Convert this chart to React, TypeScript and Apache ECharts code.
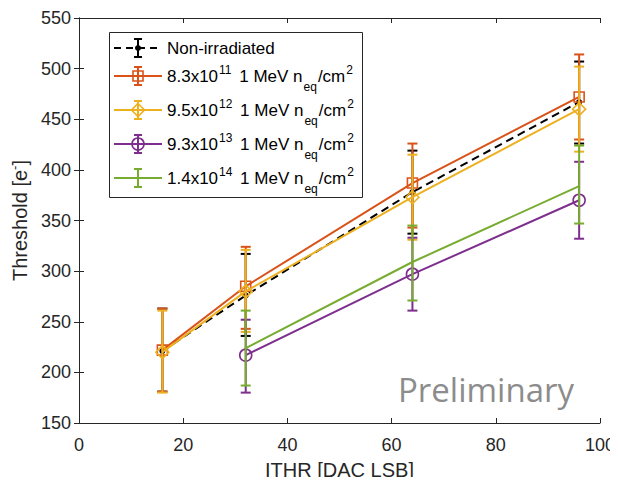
import React, { useEffect, useRef } from "react";
import * as echarts from "echarts";

// ---- data ----
const ithrAll = [16, 32, 64, 96];
const ithrIrr = [32, 64, 96];

const nonIrrMean = [221, 276, 378, 467];
const nonIrrLo = [181, 236, 337, 426];
const nonIrrHi = [263, 317, 419, 507];

const f1Mean = [222, 285, 387, 472];
const f1Lo = [181, 243, 343, 430];
const f1Hi = [263, 324, 426, 514];

const f2Mean = [220, 280, 373, 460];
const f2Lo = [180, 240, 331, 418];
const f2Hi = [261, 321, 415, 502];

const f3Mean = [217, 297, 370];
const f3Lo = [180, 261, 332];
const f3Hi = [252, 333, 408];

const f4Mean = [224, 309, 384];
const f4Lo = [187, 271, 347];
const f4Hi = [261, 345, 424];

const xTicks = { min: 0, max: 100, interval: 20 };
const yTicks = { min: 150, max: 550, interval: 50 };

const legendLabels = [
  "Non-irradiated",
  "8.3x10{sup|11} 1 MeV n{sub|eq}/cm{sup|2}",
  "9.5x10{sup|12} 1 MeV n{sub|eq}/cm{sup|2}",
  "9.3x10{sup|13} 1 MeV n{sub|eq}/cm{sup|2}",
  "1.4x10{sup|14} 1 MeV n{sub|eq}/cm{sup|2}",
];

type SeriesDef = {
  x: number[];
  mean: number[];
  lo: number[];
  hi: number[];
  color: string;
  symbol: string;
  symbolSize: number;
  filled: boolean;
  dashed: boolean;
  label: string;
};

const seriesDefs: SeriesDef[] = [
  { x: ithrAll, mean: nonIrrMean, lo: nonIrrLo, hi: nonIrrHi, color: "#000000", symbol: "circle", symbolSize: 6, filled: true, dashed: true, label: legendLabels[0] },
  { x: ithrAll, mean: f1Mean, lo: f1Lo, hi: f1Hi, color: "#D95319", symbol: "rect", symbolSize: 10, filled: false, dashed: false, label: legendLabels[1] },
  { x: ithrAll, mean: f2Mean, lo: f2Lo, hi: f2Hi, color: "#EDB120", symbol: "diamond", symbolSize: 13, filled: false, dashed: false, label: legendLabels[2] },
  { x: ithrIrr, mean: f3Mean, lo: f3Lo, hi: f3Hi, color: "#7E2F8E", symbol: "circle", symbolSize: 12, filled: false, dashed: false, label: legendLabels[3] },
  { x: ithrIrr, mean: f4Mean, lo: f4Lo, hi: f4Hi, color: "#77AC30", symbol: "none", symbolSize: 0, filled: false, dashed: false, label: legendLabels[4] },
];

const AXIS = "#262626";
const FONT = "'Liberation Sans', Arial, sans-serif";

export default function App() {
  const ref = useRef<HTMLDivElement>(null);
  useEffect(() => {
    if (!ref.current) return;
    const chart = echarts.init(ref.current, undefined, { renderer: "svg" });

    const series: any[] = [];
    seriesDefs.forEach((d, k) => {
      series.push({
        type: "custom",
        silent: true,
        z: 2 + k * 2,
        data: d.x.map((xv, i) => [xv, d.lo[i], d.hi[i]]),
        encode: { x: 0, y: [1, 2] },
        renderItem: (params: any, api: any) => {
          const xv = api.value(0);
          const pLo = api.coord([xv, api.value(1)]);
          const pHi = api.coord([xv, api.value(2)]);
          const w = 5;
          const st = { stroke: d.color, lineWidth: 2 };
          return {
            type: "group",
            children: [
              { type: "line", shape: { x1: pLo[0], y1: pLo[1], x2: pHi[0], y2: pHi[1] }, style: st },
              { type: "line", shape: { x1: pLo[0] - w, y1: pLo[1], x2: pLo[0] + w, y2: pLo[1] }, style: st },
              { type: "line", shape: { x1: pHi[0] - w, y1: pHi[1], x2: pHi[0] + w, y2: pHi[1] }, style: st },
            ],
          };
        },
      });
      series.push({
        type: "line",
        silent: true,
        z: 3 + k * 2,
        data: d.x.map((xv, i) => [xv, d.mean[i]]),
        symbol: d.symbol,
        symbolSize: d.symbolSize,
        showSymbol: d.symbol !== "none",
        lineStyle: { color: d.color, width: 2, type: d.dashed ? [8, 5] : "solid" },
        itemStyle: d.filled
          ? { color: d.color, borderColor: d.color, borderWidth: 0 }
          : { color: "rgba(0,0,0,0)", borderColor: d.color, borderWidth: 1.6 },
        emphasis: { disabled: true },
      });
    });

    // legend drawn as graphic
    const legendX0 = 109;
    const legendY0 = 32;
    const rowsY = [48, 76, 110, 144, 178];
    const graphics: any[] = [
      {
        type: "rect",
        shape: { x: legendX0 + 0.5, y: legendY0 + 0.5, width: 253, height: 165 },
        style: { fill: "#ffffff", stroke: AXIS, lineWidth: 1 },
        z: 100,
      },
    ];
    seriesDefs.forEach((d, k) => {
      const y = rowsY[k];
      const cx = 138;
      const st = { stroke: d.color, lineWidth: 2 };
      graphics.push({
        type: "line",
        shape: { x1: 114, y1: y, x2: 162, y2: y },
        style: { ...st, lineDash: d.dashed ? [7, 5] : null },
        z: 101,
      });
      graphics.push({ type: "line", shape: { x1: cx, y1: y - 9, x2: cx, y2: y + 9 }, style: st, z: 101 });
      graphics.push({ type: "line", shape: { x1: cx - 4, y1: y - 9, x2: cx + 4, y2: y - 9 }, style: st, z: 101 });
      graphics.push({ type: "line", shape: { x1: cx - 4, y1: y + 9, x2: cx + 4, y2: y + 9 }, style: st, z: 101 });
      const mst = { fill: "none", stroke: d.color, lineWidth: 1.6 };
      if (d.filled) {
        graphics.push({ type: "circle", shape: { cx, cy: y, r: 3 }, style: { fill: d.color }, z: 102 });
      } else if (d.symbol === "rect") {
        graphics.push({ type: "rect", shape: { x: cx - 5, y: y - 5, width: 10, height: 10 }, style: mst, z: 102 });
      } else if (d.symbol === "diamond") {
        graphics.push({
          type: "polygon",
          shape: { points: [[cx, y - 6.5], [cx + 6.5, y], [cx, y + 6.5], [cx - 6.5, y]] },
          style: mst,
          z: 102,
        });
      } else if (d.symbol === "circle") {
        graphics.push({ type: "circle", shape: { cx, cy: y, r: 6 }, style: mst, z: 102 });
      }
      graphics.push({
        type: "text",
        x: 167,
        y,
        z: 102,
        style: {
          text: d.label,
          fill: "#000000",
          fontSize: 17,
          fontFamily: FONT,
          verticalAlign: "middle",
          align: "left",
          rich: {
            sup: { fontSize: 12, fontFamily: FONT, fill: "#000000", padding: [0, 3, 12, 1] },
            sub: { fontSize: 12, fontFamily: FONT, fill: "#000000", padding: [22, 1, 0, 1] },
          },
        },
      });
    });
    graphics.push({
      type: "text",
      x: 398,
      y: 389,
      z: 50,
      style: {
        text: "Preliminary",
        fill: "#8c8c8c",
        fontSize: 33,
        fontFamily: "'Open Sans', 'Noto Sans', sans-serif",
        verticalAlign: "middle",
        align: "left",
      },
    });

    const axisCommon = {
      axisLine: { show: true, lineStyle: { color: AXIS, width: 1 } },
      axisTick: { show: true, inside: true, length: 5, lineStyle: { color: AXIS, width: 1 } },
      splitLine: { show: false },
    };

    chart.setOption({
      animation: false,
      backgroundColor: "#ffffff",
      grid: { left: 77, right: 18, top: 18, bottom: 60, containLabel: false },
      xAxis: [
        {
          type: "value",
          ...xTicks,
          ...axisCommon,
          position: "bottom",
          axisLabel: { color: AXIS, fontSize: 18, fontFamily: FONT, margin: 13 },
          name: "ITHR [DAC LSB]",
          nameLocation: "middle",
          nameGap: 37,
          nameTextStyle: { color: AXIS, fontSize: 20, fontFamily: FONT },
        },
        {
          type: "value",
          ...xTicks,
          ...axisCommon,
          position: "top",
          axisLabel: { show: false },
        },
      ],
      yAxis: [
        {
          type: "value",
          ...yTicks,
          ...axisCommon,
          position: "left",
          axisLabel: { color: AXIS, fontSize: 18, fontFamily: FONT, margin: 8 },
          name: "Threshold [e{sup|-}]",
          nameLocation: "middle",
          nameGap: 48,
          nameTextStyle: {
            color: AXIS,
            fontSize: 20,
            fontFamily: FONT,
            rich: { sup: { fontSize: 13, fontFamily: FONT, color: AXIS, padding: [0, 0, 10, 0] } },
          },
        },
        {
          type: "value",
          ...yTicks,
          ...axisCommon,
          position: "right",
          axisLabel: { show: false },
        },
      ],
      graphic: graphics,
      series,
    });

    return () => chart.dispose();
  }, []);

  return <div ref={ref} style={{ width: 618, height: 485, margin: -8 }} />;
}
